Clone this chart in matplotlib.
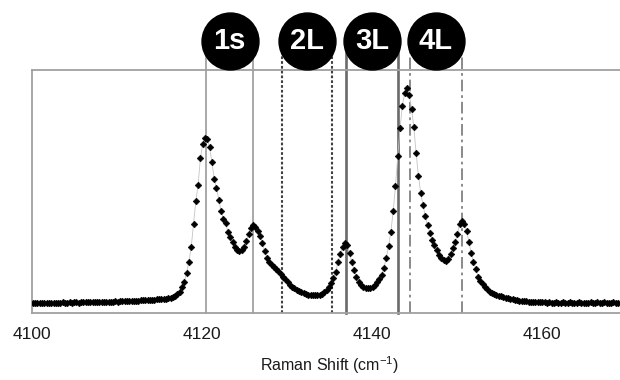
import matplotlib
matplotlib.use("Agg")
import matplotlib.pyplot as plt
import numpy as np
from matplotlib.transforms import blended_transform_factory

plt.rcParams['font.family'] = ['Liberation Sans', 'DejaVu Sans']
plt.rcParams['mathtext.fontset'] = 'custom'
plt.rcParams['mathtext.rm'] = 'Liberation Sans'

# ---- data -------------------------------------------------------------
shift_start = 4100.1      # cm-1, first sample
shift_step = 0.27         # cm-1, sampling interval
intensity = [
    10.0, 10.2, 9.9, 10.1, 10.3, 10.0, 10.2, 10.4, 10.1, 10.3,
    10.5, 10.2, 10.4, 10.6, 10.3, 10.5, 10.7, 10.4, 10.6, 10.8,
    10.5, 10.7, 10.9, 10.6, 10.8, 11.0, 10.7, 10.9, 11.1, 10.9,
    11.2, 11.0, 11.3, 11.5, 11.2, 11.4, 11.7, 11.5, 11.7, 11.9,
    11.7, 12.0, 12.2, 12.0, 12.3, 12.5, 12.3, 12.6, 12.8, 12.7,
    13.0, 13.1, 13.2, 13.4, 13.6, 13.8, 13.9, 14.2, 14.5, 14.8,
    15.2, 16.2, 17.2, 19.0, 20.8, 26.1, 31.4, 40.0, 51.5, 66.0,
    88.8, 111.6, 128.1, 154.7, 168.7, 175.3, 174.5, 165.9, 151.0, 134.4,
    125.2, 113.4, 101.9, 94.3, 89.7, 81.3, 76.0, 71.0, 66.4, 63.2,
    62.0, 62.9, 66.0, 72.1, 79.5, 84.8, 87.6, 86.5, 82.5, 76.8,
    70.0, 62.2, 55.2, 51.3, 48.5, 46.2, 43.9, 41.6, 39.1, 36.4,
    33.6, 30.9, 28.1, 26.4, 24.8, 23.2, 22.0, 20.8, 19.8, 19.2,
    18.5, 18.0, 18.0, 18.0, 18.1, 18.5, 19.0, 20.7, 22.9, 26.4,
    30.4, 35.5, 41.4, 51.3, 59.0, 66.0, 70.0, 68.0, 59.6, 50.6,
    42.8, 35.7, 31.1, 28.2, 26.3, 25.0, 25.0, 25.1, 26.5, 27.9,
    30.9, 34.2, 38.4, 45.3, 55.4, 66.9, 81.0, 101.7, 126.8, 156.8,
    184.6, 207.3, 219.6, 224.9, 218.5, 204.2, 186.2, 159.7, 137.3, 120.0,
    108.0, 96.8, 88.0, 80.4, 73.5, 67.7, 62.7, 58.5, 55.3, 52.8,
    52.3, 54.5, 59.3, 64.6, 70.7, 79.4, 88.9, 92.0, 89.2, 82.3,
    71.5, 60.0, 51.5, 44.2, 36.5, 32.5, 29.3, 26.0, 23.7, 21.4,
    20.2, 19.2, 18.2, 17.5, 16.8, 16.1, 15.4, 14.8, 14.3, 13.7,
    13.2, 12.7, 12.1, 11.9, 11.8, 11.6, 11.5, 11.4, 11.2, 11.1,
    11.0, 10.8, 10.7, 10.6, 10.5, 10.6, 10.4, 10.5, 10.6, 10.4,
    10.5, 10.7, 10.5, 10.4, 10.6, 10.5, 10.3, 10.5, 10.6, 10.4,
    10.5, 10.3, 10.5, 10.6, 10.4, 10.5, 10.7, 10.5, 10.4, 10.6,
    10.5, 10.3, 10.5, 10.6, 10.4, 10.5,
]
shift = shift_start + shift_step * np.arange(len(intensity))

labels = ['1s', '2L', '3L', '4L']
band_low = [4120.47, 4129.38, 4136.90, 4144.47]
band_high = [4126.04, 4135.26, 4143.10, 4150.55]
x_ticks = [4100, 4120, 4140, 4160]

# ---- styles -----------------------------------------------------------
band_styles = {
    '1s': dict(color='#a8a8a8', ls='-', lw=1.4),
    '2L': dict(color='#404040', ls=(0, (1.3, 1.0)), lw=1.5),
    '3L': dict(color='#6a6a6a', ls='-', lw=1.9),
    '4L': dict(color='#8a8a8a', ls=(0, (6, 2, 1.4, 2)), lw=1.4),
}

fig = plt.figure(figsize=(6.2, 3.8), dpi=100)
fig.patch.set_facecolor('white')
ax = fig.add_axes([32 / 620, 67 / 380, 595 / 620, 243 / 380])
ax.set_xlim(4100, 4170)
ax.set_ylim(0, 243)

trans = blended_transform_factory(ax.transData, ax.transAxes)
circle_y = 1.119
for lab, lo, hi in zip(labels, band_low, band_high):
    st = band_styles[lab]
    for xv in (lo, hi):
        ax.plot([xv, xv], [0, 1.08], transform=trans, clip_on=False,
                color=st['color'], ls=st['ls'], lw=st['lw'], zorder=2)
    xc = (lo + hi) / 2
    ax.plot([xc], [circle_y], 'o', ms=41, color='black', mec='black',
            transform=trans, clip_on=False, zorder=6)
    ax.text(xc, circle_y, lab, color='white', fontsize=21, fontweight='bold',
            ha='center', va='center', transform=trans, zorder=7)

ax.plot(shift, intensity, color='#c4c4c4', lw=0.6, zorder=3)
ax.plot(shift, intensity, ls='none', marker='D', ms=3.4, color='black',
        mec='black', mew=0.4, zorder=4)

for side in ['left', 'top', 'bottom']:
    ax.spines[side].set_color('#a0a0a0')
    ax.spines[side].set_linewidth(1.3)
ax.spines['right'].set_visible(False)

ax.set_xticks(x_ticks)
ax.set_xticklabels([str(t) for t in x_ticks])
ax.tick_params(axis='x', length=0, pad=10, labelsize=12.5, colors='#1a1a1a')
ax.set_yticks([])
ax.set_xlabel(r'Raman Shift (cm$^{\mathregular{-1}}$)', fontsize=11.5,
              labelpad=9, color='#1a1a1a')

fig.savefig('out.png', dpi=100)
